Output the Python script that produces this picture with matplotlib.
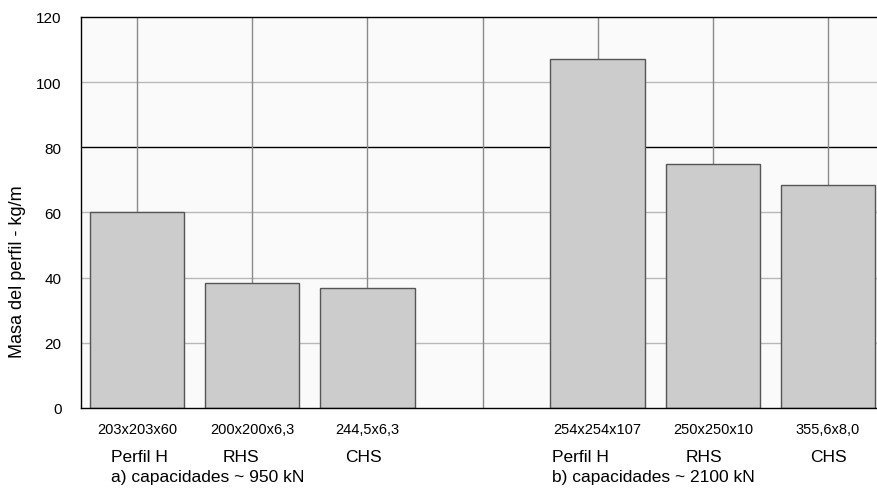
import numpy as np
import matplotlib.pyplot as plt

plt.rcParams["font.family"] = ["Liberation Sans", "DejaVu Sans"]

# ---------- data ----------
sections = ["203x203x60", "200x200x6,3", "244,5x6,3", "",
            "254x254x107", "250x250x10", "355,6x8,0"]
types = ["Perfil H", "RHS", "CHS", "", "Perfil H", "RHS", "CHS"]
masses = [60.0, 38.3, 36.9, None, 107.0, 74.8, 68.3]
group_labels = ["a) capacidades ~ 950 kN", "b) capacidades ~ 2100 kN"]
group_start = [0, 4]   # slot index where each group label starts

# horizontal nudge of the type labels (in slot units), as laid out in the source
type_shift = [-0.23, -0.10, -0.03, 0.0, -0.40, -0.08, 0.0]

fig = plt.figure(figsize=(8.77, 4.89), dpi=100)
ax = fig.add_axes([0.0924, 0.1636, 0.9076, 0.7996])
ax.set_facecolor("#fafafa")

slots = np.arange(len(sections))
xs = [i for i, m in zip(slots, masses) if m is not None]
hs = [m for m in masses if m is not None]

# grid drawn by hand so the 80 line can be black as in the source
for y in range(20, 120, 20):
    ax.axhline(y, color="black" if y == 80 else "#b8b8b8", lw=1, zorder=0)
for x in slots:
    ax.axvline(x, color="#8a8a8a", lw=1, zorder=0)

ax.bar(xs, hs, width=0.82, color="#cccccc", edgecolor="#555555",
       linewidth=1, zorder=2)

ax.set_xlim(-0.486, 6.425)
ax.set_ylim(0, 120)
ax.set_yticks(range(0, 121, 20))
ax.set_xticks(slots)
ax.set_xticklabels(sections, fontsize=10.5)
ax.tick_params(axis="both", length=0)
ax.tick_params(axis="x", pad=10)
ax.tick_params(axis="y", pad=14, labelsize=11)

for side in ["left", "bottom", "top"]:
    ax.spines[side].set_color("black")
    ax.spines[side].set_linewidth(1)
ax.spines["right"].set_visible(False)

ax.set_ylabel("Masa del perfil - kg/m", fontsize=13)
ax.yaxis.set_label_coords(-0.069, 0.35)

tr = ax.get_xaxis_transform()
for i, (t, dx) in enumerate(zip(types, type_shift)):
    if not t:
        continue
    ha = "left" if t == "Perfil H" else "center"
    ax.text(i + dx, -0.123, t, transform=tr, ha=ha, va="center",
            fontsize=12.5)
for lbl, s in zip(group_labels, group_start):
    ax.text(s + type_shift[s], -0.174, lbl, transform=tr, ha="left",
            va="center", fontsize=12.5)

fig.savefig("out.png", dpi=100)
